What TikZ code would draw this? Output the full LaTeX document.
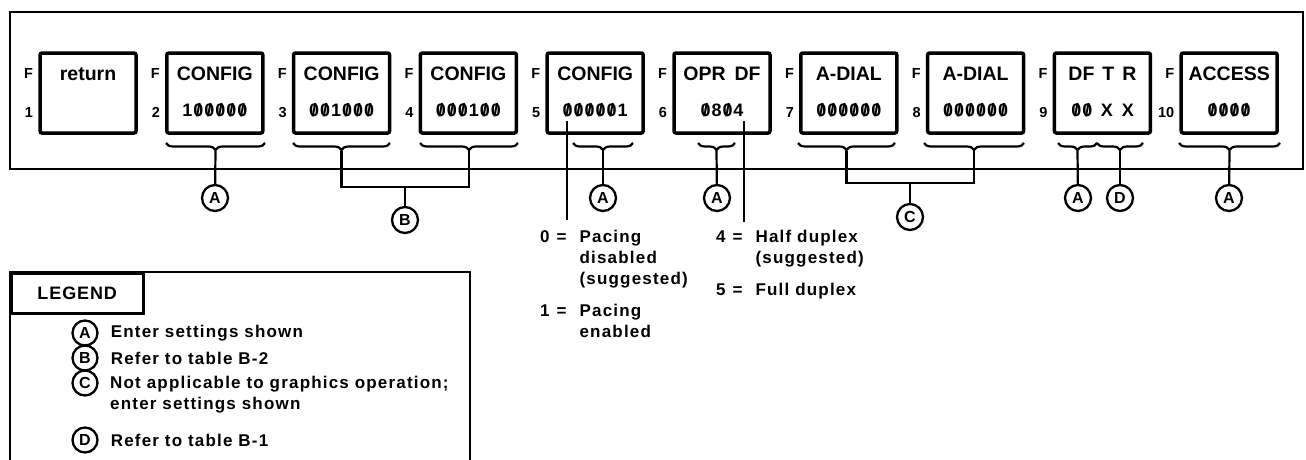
\documentclass[tikz,border=0pt]{standalone}
\usepackage{fontspec}
\setmainfont{Liberation Sans}
\usetikzlibrary{positioning,calc,decorations.pathreplacing}
\newcommand{\zr}{\makebox[11pt]{\ooalign{0\cr\hidewidth/\hidewidth\cr}}}
\newcommand{\dg}[1]{\makebox[11pt]{#1}}
\tikzset{
  fkey/.style={draw, line width=3.5pt, rounded corners=2pt, minimum width=96pt, minimum height=80pt, inner sep=0pt},
  ktop/.style={font=\fontsize{19.5}{22}\selectfont\bfseries, inner sep=0pt, text height=14pt, text depth=0pt},
  kval/.style={font=\fontsize{18}{21}\selectfont\bfseries, inner sep=0pt, text height=13pt, text depth=0pt},
  klbl/.style={font=\fontsize{14.5}{16}\selectfont\bfseries, inner sep=0pt, text height=10.5pt, text depth=0pt},
  tag/.style={draw, circle, line width=2.3pt, minimum size=26pt, inner sep=0pt, font=\fontsize{16}{16}\selectfont\bfseries},
  brc/.style={decorate, decoration={brace, amplitude=7pt, mirror}, line width=2.2pt},
  lnk/.style={line width=2.2pt},
  note/.style={font=\fontsize{17}{21}\selectfont\bfseries\addfontfeature{LetterSpace=7}, inner sep=0pt, align=left},
}
\begin{document}
\begin{tikzpicture}[x=1pt, y=-1pt]
\useasboundingbox (0,0) rectangle (1306,459);
% panel with the ten function keys
\draw[line width=2.5pt] (10,12) rectangle (1303,169);
\foreach \i/\kt/\kv in {1/return/{}, 2/CONFIG/\dg1\zr\zr\zr\zr\zr, 3/CONFIG/\zr\zr\dg1\zr\zr\zr,
  4/CONFIG/\zr\zr\zr\dg1\zr\zr, 5/CONFIG/\zr\zr\zr\zr\zr\dg1, 6/OPR\hspace{9pt}DF/\zr\dg8\zr\dg4,
  7/A-DIAL/\zr\zr\zr\zr\zr\zr, 8/A-DIAL/\zr\zr\zr\zr\zr\zr,
  9/DF\hspace{8pt}T\hspace{8pt}R/\zr\zr\hspace{8pt}X\hspace{9pt}X, 10/ACCESS/\zr\zr\zr\zr}
{
  \node[fkey] (b\i) at ({88+126.8*(\i-1)},93) {};
  \node[ktop] (t\i) at ([yshift=20pt]b\i.center) {\kt};
  \node[kval] (v\i) at ([yshift=-17pt]b\i.center) {\kv};
  \node[klbl, anchor=east] at ([xshift=-5pt,yshift=20pt]b\i.west) {F};
  \node[klbl, anchor=east] at ([xshift=-5pt,yshift=-19pt]b\i.west) {\i};
}
% braces under the keys
\foreach \bn/\xa/\xb in {c2/166/265, c3/293/390, c4/420/518, c5/573/633, c6/698/735,
  c7/798/895, c8/924/1024, c9a/1058/1097, c9b/1097/1143, c10/1179/1280}
{
  \draw[brc] (\xa,143) -- (\xb,143);
  \coordinate (\bn) at ({(\xa+\xb)/2},151);
}
% circled tags
\node[tag] (a2) at (215,198) {A};
\node[tag] (bb) at (405,220) {B};
\node[tag] (a5) at (603,198) {A};
\node[tag] (a6) at (717,198) {A};
\node[tag] (cc) at (910,217) {C};
\node[tag] (a9) at (1078,198) {A};
\node[tag] (d9) at (1120,198) {D};
\node[tag] (a10) at (1229,198) {A};
\draw[lnk] (c2) -- (a2);
\draw[lnk] (c5) -- (a5);
\draw[lnk] (c6) -- (a6);
\draw[lnk] (c9a) -- (a9);
\draw[lnk] (c9b) -- (d9);
\draw[lnk] (c10) -- (a10);
\coordinate (bj) at (405,187);
\draw[lnk] (c3) |- (bj) -| (c4);
\draw[lnk] (bj) -- (bb);
\coordinate (cj) at (910,183);
\draw[lnk] (c7) |- (cj) -| (c8);
\draw[lnk] (cj) -- (cc);
% pacing and duplex notes
\coordinate (pace) at (567,121);
\coordinate (pace-e) at (567,220);
\coordinate (dplx) at (744,121);
\coordinate (dplx-e) at (744,222);
\draw[lnk] (pace) -- (pace-e);
\draw[lnk] (dplx) -- (dplx-e);
\node[note, anchor=north west] (npace) at (540,228) {\begin{tabular}{@{}l@{\hspace{13pt}}l@{}}
  0\hspace{7pt}= & Pacing\\ & disabled\\ & (suggested)\\[11pt]
  1\hspace{7pt}= & Pacing\\ & enabled\end{tabular}};
\node[note, anchor=north west] (ndplx) at (716,228) {\begin{tabular}{@{}l@{\hspace{13pt}}l@{}}
  4\hspace{7pt}= & Half duplex\\ & (suggested)\\[11pt]
  5\hspace{7pt}= & Full duplex\end{tabular}};
% legend
\draw[line width=2.5pt] (10,465) -- (10,272) -- (470,272) -- (470,465);
\node[draw, line width=2.5pt, anchor=north west, minimum width=132pt, minimum height=40pt,
  font=\fontsize{18}{21}\selectfont\bfseries\addfontfeature{LetterSpace=5}] (lg) at (10,272) {LEGEND};
\foreach \k/\yy/\txt in {A/333/Enter settings shown, B/358/Refer to table B-2, D/440/Refer to table B-1}
{
  \node[tag, minimum size=25pt] (l\k) at (85,\yy) {\k};
  \node[note, anchor=west] at ([xshift=12pt]l\k.east) {\txt};
}
\node[tag, minimum size=25pt] (lC) at (85,383) {C};
\node[note, anchor=north west] at (110,376) {Not applicable to graphics operation;\\enter settings shown};
\end{tikzpicture}
\end{document}
